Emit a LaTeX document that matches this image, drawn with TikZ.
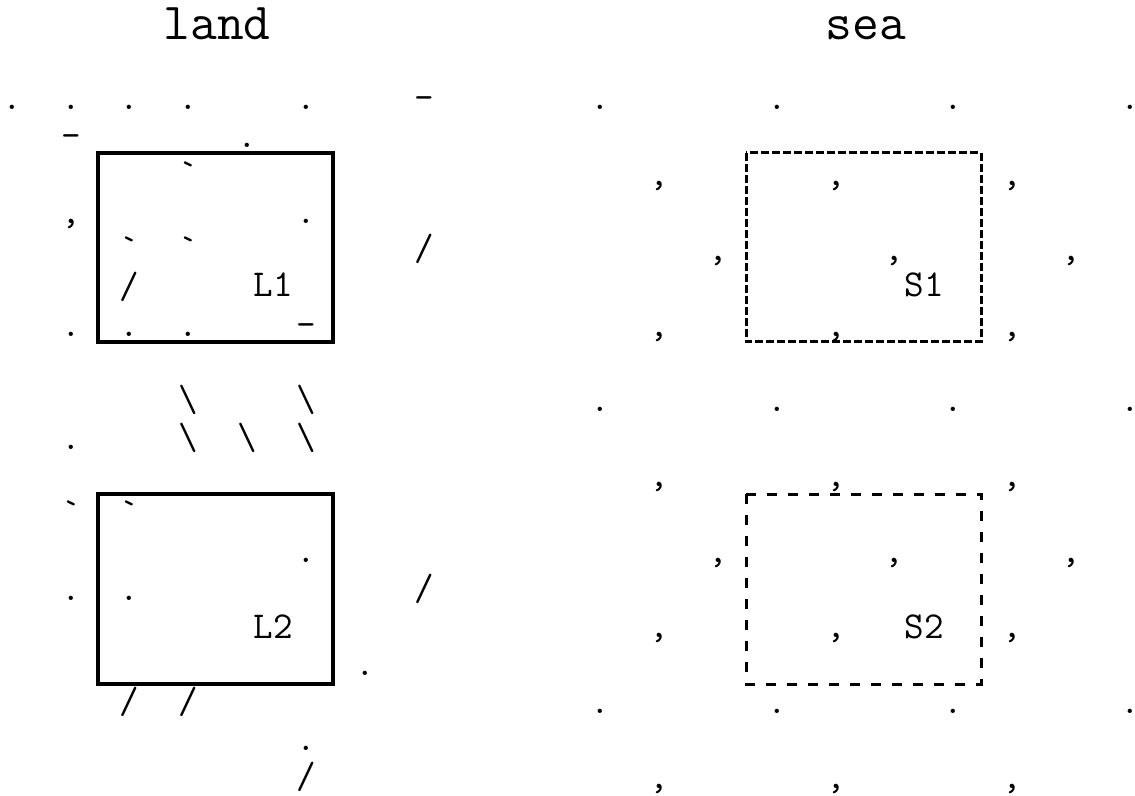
\documentclass[tikz,border=0pt]{standalone}
\usepackage{fontspec}

\begin{document}
\begin{tikzpicture}[x=0.5pt,y=-0.5pt,
  glyph/.style={inner sep=0pt,anchor=base,font=\ttfamily\fontsize{19}{19}\selectfont},
  title/.style={inner sep=0pt,anchor=base,font=\ttfamily\fontsize{26}{26}\selectfont},
  landbox/.style={line width=1.6pt},
  seabox/.style={line width=1.5pt,dash pattern=on 4pt off 1.5pt},
  seaboxloose/.style={line width=1.5pt,dash pattern=on 5pt off 5.5pt}]

\useasboundingbox (0,0) rectangle (1135,796);

% --- Titoli
\node[title] (land) at (217,40) {land};
\node[title] (sea) at (866,40) {sea};

% --- Griglia: colonna i -> x = 12+58.85 i, riga j -> y = 110+37.7 j
\def\gx#1{12+58.85*#1}
\def\gy#1{110+37.7*#1}

% --- Punti
\foreach \i/\j in {0/0,1/0,2/0,3/0,5/0,4/1,5/3,1/6,2/6,3/6,1/9,5/12,1/13,2/13,6/15,5/17}{
  \node[glyph] (dot-\i-\j) at ({\gx{\i}},{\gy{\j}}) {.};
}
\foreach \j in {0,8,16}{
  \foreach \i in {10,13,16,19}{
    \node[glyph] (dot-\i-\j) at ({\gx{\i}},{\gy{\j}}) {.};
  }
}

% --- Trattini
\foreach \i/\j in {7/0,1/1,5/6}{
  \node[glyph] (dash-\i-\j) at ({\gx{\i}},{\gy{\j}}) {-};
}

% --- Accenti gravi
\foreach \i/\j in {3/2,2/4,3/4,1/11,2/11}{
  \node[glyph] (grave-\i-\j) at ({\gx{\i}},{\gy{\j}}) {\textasciigrave};
}

% --- Barre
\foreach \i/\j in {7/4,2/5,7/13,2/16,3/16,5/18}{
  \node[glyph] (slash-\i-\j) at ({\gx{\i}},{\gy{\j}}) {/};
}
\foreach \i/\j in {3/8,5/8,3/9,4/9,5/9}{
  \node[glyph] (bslash-\i-\j) at ({\gx{\i}},{\gy{\j}}) {\textbackslash};
}

% --- Virgole
\node[glyph] (com-1-3) at ({\gx{1}},{\gy{3}}) {,};
\foreach \j in {2,6,10,14,18}{
  \foreach \i in {11,14,17}{
    \node[glyph] (com-\i-\j) at ({\gx{\i}},{\gy{\j}}) {,};
  }
}
\foreach \j in {4,12}{
  \foreach \i in {12,15,18}{
    \node[glyph] (com-\i-\j) at ({\gx{\i}},{\gy{\j}}) {,};
  }
}

% --- Riquadri
\draw[landbox] (98,153) rectangle (333,342);
\draw[landbox] (98,494) rectangle (333,684);
\draw[seabox] (746,153) rectangle (981,342);
\draw[seaboxloose] (746,494) rectangle (981,684);

% --- Etichette
\node[glyph] (L1) at (273,297) {L1};
\node[glyph] (L2) at (273,638) {L2};
\node[glyph] (S1) at (924,297) {S1};
\node[glyph] (S2) at (924,638) {S2};

\end{tikzpicture}
\end{document}
